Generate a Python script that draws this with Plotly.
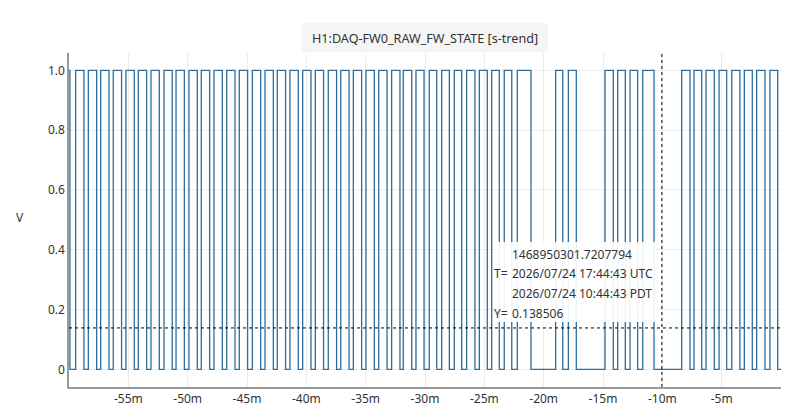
import plotly.graph_objects as go

# Edge times (minutes relative to now)
fall_min = [-59.92, -58.74, -57.67, -56.63, -55.57, -54.50, -53.46, -52.39, -51.30, -50.28,
            -49.19, -48.15, -47.08, -46.01, -44.95, -43.85, -42.78, -41.75, -40.68, -39.61,
            -38.55, -37.45, -36.40, -35.34, -34.27, -33.20, -32.11, -31.12, -30.08, -29.01,
            -27.95, -26.91, -25.79, -24.75, -23.74, -22.69, -21.07, -18.39, -17.25, -14.13,
            -13.12, -12.08, -10.70, -7.67, -6.68, -5.62, -4.58, -3.46, -2.42, -1.35, -0.28]
rise_min = [-59.44, -58.37, -57.33, -56.27, -55.20, -54.16, -53.09, -51.99, -50.98, -49.89,
            -48.85, -47.78, -46.71, -45.65, -44.55, -43.48, -42.45, -41.38, -40.31, -39.24,
            -38.15, -37.10, -36.04, -34.97, -33.90, -32.81, -31.83, -30.76, -29.64, -28.59,
            -27.53, -26.49, -25.42, -24.38, -23.32, -22.22, -18.99, -17.92, -14.83, -13.76,
            -12.72, -11.65, -8.37, -7.33, -6.32, -5.22, -4.15, -3.09, -2.05, -0.93]
t_start, t_end = -60.0, 0.0
start_state = 1

x_tick_vals = [-60, -55, -50, -45, -40, -35, -30, -25, -20, -15, -10, -5, 0]
x_tick_text = ["", "-55m", "-50m", "-45m", "-40m", "-35m", "-30m", "-25m", "-20m", "-15m", "-10m", "-5m", ""]
y_tick_vals = [0, 0.2, 0.4, 0.6, 0.8, 1.0]
y_tick_text = ["0", "0.2", "0.4", "0.6", "0.8", "1.0"]

cursor_t = -10.04
cursor_y = 0.138506
cursor_lines = ["1468950301.7207794", "2026/07/24 17:44:43 UTC", "2026/07/24 10:44:43 PDT", "0.138506"]
cursor_labels = ["", "T=", "", "Y="]
title_text = "H1:DAQ-FW0_RAW_FW_STATE [s-trend]"

# build step series
xs = [t_start]
ys = [start_state]
for i, f in enumerate(fall_min):
    xs.append(f); ys.append(0)
    if i < len(rise_min):
        xs.append(rise_min[i]); ys.append(1)
xs.append(t_end); ys.append(0)

# page has an 8px body margin; plot area in window px: x 69..781, y 53..387
OFF = 8
W, H = 795 - OFF, 418 - OFF
L, R, T, B = 69, 781, 53, 387
FONT = "Noto Sans"
TXT = "#333333"

def px(xp):
    return (xp - L) / (R - L)

def py(yp):
    return (B - yp) / (B - T)

fig = go.Figure()
fig.add_trace(go.Scatter(x=xs, y=ys, mode="lines", line=dict(color="#2d6e9c", width=1.3, shape="hv"),
                         hoverinfo="skip", showlegend=False))

fig.update_layout(
    width=W, height=H,
    margin=dict(l=L - OFF, r=795 - R, t=T - OFF, b=418 - B),
    paper_bgcolor="white", plot_bgcolor="white",
    font=dict(family=FONT, size=12, color=TXT),
    showlegend=False,
    xaxis=dict(range=[t_start, t_end], tickvals=x_tick_vals, ticktext=x_tick_text,
               showgrid=True, gridcolor="#ececec", gridwidth=1, zeroline=False,
               showline=True, linecolor="#9a9a9a", linewidth=1.5, ticks="",
               tickfont=dict(family=FONT, size=12, color=TXT)),
    yaxis=dict(range=[-0.059, 1.058], tickvals=y_tick_vals, ticktext=y_tick_text,
               showgrid=True, gridcolor="#ececec", gridwidth=1, zeroline=False,
               showline=True, linecolor="#9a9a9a", linewidth=1.5, ticks="",
               tickfont=dict(family=FONT, size=12, color=TXT)),
)

shapes = [
    dict(type="rect", xref="paper", yref="paper", x0=px(302), x1=px(548), y0=py(52), y1=py(23),
         fillcolor="#f5f5f5", line=dict(width=0), layer="below"),
    dict(type="line", xref="x", yref="paper", x0=cursor_t, x1=cursor_t, y0=0, y1=1,
         line=dict(color="black", width=1, dash="dot")),
    dict(type="line", xref="paper", yref="y", x0=0, x1=1, y0=cursor_y, y1=cursor_y,
         line=dict(color="black", width=1, dash="dot")),
    # background of the cursor readout
    dict(type="rect", xref="paper", yref="paper", x0=px(494), x1=px(656), y0=py(322), y1=py(242),
         fillcolor="white", opacity=0.92, line=dict(width=0), layer="above"),
]
fig.update_layout(shapes=shapes)

ann = [
    dict(text=title_text, xref="paper", yref="paper", x=px(425), y=py(38), xanchor="center", yanchor="middle",
         showarrow=False, font=dict(family=FONT, size=12.6, color=TXT)),
    dict(text="V", xref="paper", yref="paper", x=px(20), y=py(218), xanchor="center", yanchor="middle",
         showarrow=False, font=dict(family=FONT, size=12, color=TXT)),
]
line_y = [254.3, 273.5, 293.3, 313.3]
for lab, val, yy in zip(cursor_labels, cursor_lines, line_y):
    ann.append(dict(text=val, xref="paper", yref="paper", x=px(510), y=py(yy), xanchor="left", yanchor="middle",
                    showarrow=False, font=dict(family=FONT, size=12, color=TXT)))
    if lab:
        ann.append(dict(text=lab, xref="paper", yref="paper", x=px(509.5), y=py(yy), xanchor="right", yanchor="middle",
                        showarrow=False, font=dict(family=FONT, size=12, color=TXT)))
fig.update_layout(annotations=ann)

fig.write_html("out.html", config={"displayModeBar": False})
